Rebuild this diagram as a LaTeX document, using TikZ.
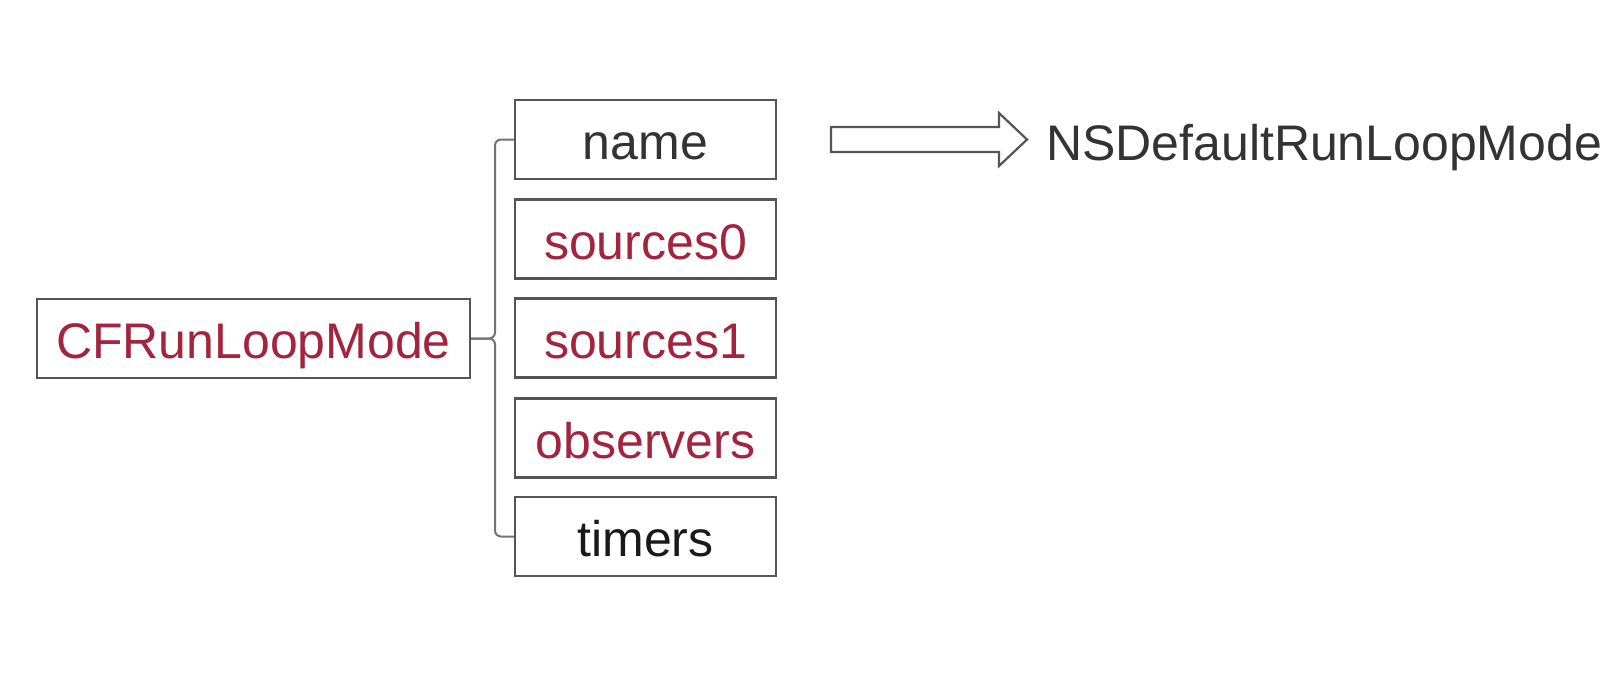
\documentclass[tikz,border=0pt]{standalone}
\usepackage{fontspec}
\setmainfont{Liberation Sans}
\definecolor{crim}{RGB}{163,36,62}
\definecolor{dtext}{RGB}{51,51,51}
\definecolor{bord}{RGB}{85,85,85}
\definecolor{lbord}{RGB}{115,115,115}
\begin{document}
\begin{tikzpicture}[x=1pt,y=-1pt,
  fbox/.style={draw=bord, line width=2.2pt, inner sep=0pt, minimum height=79pt,
    text height=41pt, text depth=1pt, font=\fontsize{50}{60}\selectfont},
  field/.style={fbox, minimum width=261pt},
  link/.style={draw=lbord, line width=2pt, rounded corners=6pt}
]
\useasboundingbox (0,0) rectangle (1620,678);
\node[fbox, minimum width=433pt, text=crim] (cf) at (253.5,338.5) {CFRunLoopMode};
\node[field, text=dtext] (name) at (645.5,139.5) {name};
\node[field, text=crim] (src0) at (645.5,239) {sources0};
\node[field, text=crim] (src1) at (645.5,338) {sources1};
\node[field, text=crim] (obs) at (645.5,438) {observers};
\node[field, text=black!90] (tim) at (645.5,536.5) {timers};
\node[anchor=base west, inner sep=0pt, text=dtext, font=\fontsize{50}{60}\selectfont] (mode) at (1046,160) {NSDefaultRunLoopMode};
\coordinate (bx) at (495,338.5);
\path[link] (name.west) -- (name.west -| bx) -- (bx) -- (cf.east);
\path[link] (tim.west) -- (tim.west -| bx) -- (bx) -- (cf.east);
\draw[draw=bord, line width=2.2pt, fill=white, line join=miter]
  (831,127) -- (999,127) -- (999,113) -- (1027,139.5) -- (999,166) -- (999,152) -- (831,152) -- cycle;
\end{tikzpicture}
\end{document}
